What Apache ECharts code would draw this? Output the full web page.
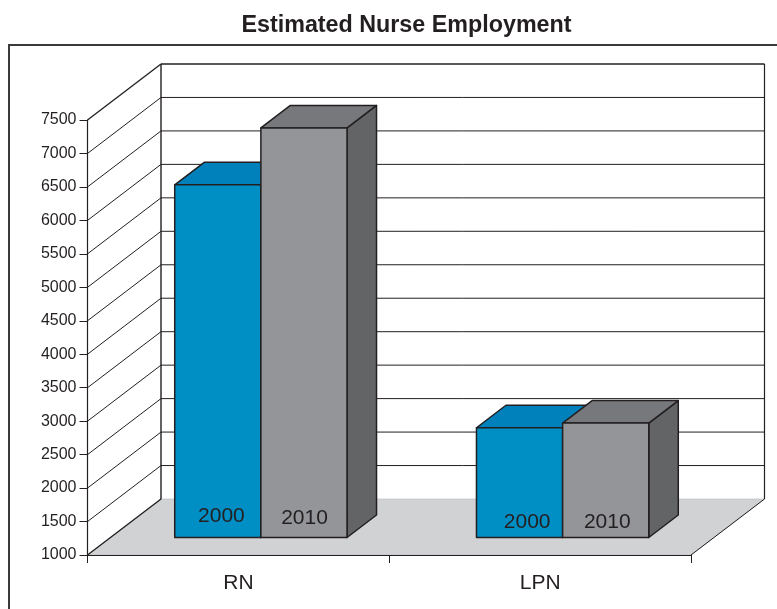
<!DOCTYPE html>
<html>
<head>
<meta charset="utf-8">
<style>
  html, body { margin: 0; padding: 0; background: #fff; }
  #chart { width: 777px; height: 609px; }
</style>
<script src="https://cdn.jsdelivr.net/npm/echarts@6/dist/echarts.min.js"></script>
</head>
<body>
<div id="chart"></div>
<script>
const categories = ['RN', 'LPN'];
const seriesNames = ['2000', '2010'];
const values2000 = [6270, 2640];
const values2010 = [7120, 2710];
const yTicks = [1000, 1500, 2000, 2500, 3000, 3500, 4000, 4500, 5000, 5500, 6000, 6500, 7000, 7500];

const INK = '#231f20';
// fake 3d: how far the back wall sits from the front plane, in px
const wallDx = 73.5, wallDy = -56;
// bars stand part way into the floor
const barDx = 22.5, barDy = -17.5;
const depthDx = 29.5, depthDy = -22.5;
const barBand = 0.2855; // bar width as a share of one category band

// label nudges, the original labels are hand placed
const labelNudge = {
  '2000': [[-39.5, -21.5], [-35.5, -15.5]],
  '2010': [[-42.5, -19.5], [-41.5, -15.5]]
};

function line(p, q, width, color) {
  return {
    type: 'line',
    shape: { x1: p[0], y1: p[1], x2: q[0], y2: q[1] },
    style: { stroke: color || INK, lineWidth: width || 1 }
  };
}

function shift(p, dx, dy) {
  return [p[0] + dx, p[1] + dy];
}

function renderFloor(params, api) {
  const size = api.size([1, 0]);
  const a = api.coord([0, 1000]);
  const left = a[0] - size[0] / 2;
  const right = left + size[0] * 2;
  const y = a[1];
  return {
    type: 'polygon',
    shape: { points: [[left, y], [right, y], [right + wallDx, y + wallDy], [left + wallDx, y + wallDy]] },
    style: { fill: '#d1d2d4', stroke: '#b9babc', lineWidth: 0.6 }
  };
}

function renderWallLine(params, api) {
  const size = api.size([1, 0]);
  const p = api.coord([0, api.value(0)]);
  const left = p[0] - size[0] / 2;
  const right = left + size[0] * 2;
  const v = api.value(0);
  const front = [left, p[1]];
  const back = shift(front, wallDx, wallDy);
  const outer = v === 1000 || v === 7500;
  const children = [line(front, back, outer ? 1.4 : 1)];
  if (v !== 1000) {
    children.push(line(back, [right + wallDx, back[1]], outer ? 1.3 : 1));
  }
  return { type: 'group', children: children };
}

function renderWallEdges(params, api) {
  const size = api.size([1, 0]);
  const bottom = api.coord([0, 1000]);
  const top = api.coord([0, 7500]);
  const left = bottom[0] - size[0] / 2;
  const right = left + size[0] * 2;
  return {
    type: 'group',
    children: [
      line([left + wallDx, bottom[1] + wallDy], [left + wallDx, top[1] + wallDy], 1.4),
      line([right + wallDx, bottom[1] + wallDy], [right + wallDx, top[1] + wallDy], 1.2),
      line([right, bottom[1]], [right + wallDx, bottom[1] + wallDy], 1)
    ]
  };
}

function makeBarRender(name, slot, front, top, side) {
  return function (params, api) {
    const i = api.value(0);
    const band = api.size([1, 0])[0];
    const w = band * barBand;
    const c = api.coord([i, api.value(1)]);
    const base = api.coord([i, 1000]);
    const x0 = c[0] + barDx + (slot - 1) * w;
    const x1 = x0 + w;
    const yTop = c[1] + barDy;
    const yBase = base[1] + barDy;
    const border = { stroke: INK, lineWidth: 1.5, lineJoin: 'round' };
    const nudge = labelNudge[name][i];
    return {
      type: 'group',
      children: [
        {
          type: 'polygon',
          shape: { points: [[x1, yTop], [x1 + depthDx, yTop + depthDy], [x1 + depthDx, yBase + depthDy], [x1, yBase]] },
          style: Object.assign({ fill: side }, border)
        },
        {
          type: 'polygon',
          shape: { points: [[x0, yTop], [x0 + depthDx, yTop + depthDy], [x1 + depthDx, yTop + depthDy], [x1, yTop]] },
          style: Object.assign({ fill: top }, border)
        },
        {
          type: 'rect',
          shape: { x: x0, y: yTop, width: w, height: yBase - yTop },
          style: Object.assign({ fill: front }, border)
        },
        {
          type: 'text',
          style: {
            x: x1 + nudge[0],
            y: yBase + nudge[1],
            text: name,
            fill: INK,
            font: '21px "Liberation Sans", Arial, sans-serif',
            align: 'center',
            verticalAlign: 'middle'
          }
        }
      ]
    };
  };
}

const chart = echarts.init(document.getElementById('chart'), null, { renderer: 'canvas' });

chart.setOption({
  animation: false,
  backgroundColor: '#fff',
  textStyle: { fontFamily: '"Liberation Sans", Arial, sans-serif' },
  title: {
    text: 'Estimated Nurse Employment',
    left: 401.5,
    top: 9,
    textAlign: 'center',
    textStyle: { fontSize: 23.3, fontWeight: 'bold', color: INK, fontFamily: '"Liberation Sans", Arial, sans-serif' }
  },
  graphic: [
    {
      type: 'polyline',
      shape: { points: [[9, 609], [9, 45], [777, 45]] },
      style: { fill: 'none', stroke: '#3a3a3c', lineWidth: 2 },
      z: -1
    }
  ],
  grid: { left: 87.5, right: 86, top: 120, bottom: 54, containLabel: false },
  xAxis: {
    type: 'category',
    data: categories,
    boundaryGap: true,
    axisLine: { show: true, lineStyle: { color: INK, width: 1.2 } },
    axisTick: { show: true, length: 8, alignWithLabel: false, lineStyle: { color: INK, width: 1 } },
    axisLabel: { color: INK, fontSize: 21, margin: 18 },
    z: 5
  },
  yAxis: {
    type: 'value',
    min: 1000,
    max: 7500,
    interval: 500,
    axisLine: { show: true, lineStyle: { color: INK, width: 1.2 } },
    axisTick: { show: true, length: 8, lineStyle: { color: INK, width: 1 } },
    axisLabel: { color: INK, fontSize: 16, margin: 11, formatter: v => String(v) },
    splitLine: { show: false },
    z: 5
  },
  series: [
    { type: 'custom', name: 'floor', renderItem: renderFloor, data: [[0]], clip: false, silent: true, z: 1, encode: { y: 0 } },
    { type: 'custom', name: 'walls', renderItem: renderWallLine, data: yTicks.map(v => [v]), clip: false, silent: true, z: 2, encode: { y: 0 } },
    { type: 'custom', name: 'edges', renderItem: renderWallEdges, data: [[0]], clip: false, silent: true, z: 2, encode: { y: 0 } },
    {
      type: 'custom',
      name: seriesNames[0],
      renderItem: makeBarRender(seriesNames[0], 0, '#008fc5', '#0081bc', '#00699a'),
      data: values2000.map((v, i) => [i, v]),
      clip: false,
      z: 3,
      encode: { x: 0, y: 1 }
    },
    {
      type: 'custom',
      name: seriesNames[1],
      renderItem: makeBarRender(seriesNames[1], 1, '#939598', '#77787b', '#636466'),
      data: values2010.map((v, i) => [i, v]),
      clip: false,
      z: 4,
      encode: { x: 0, y: 1 }
    }
  ]
});
</script>
</body>
</html>
